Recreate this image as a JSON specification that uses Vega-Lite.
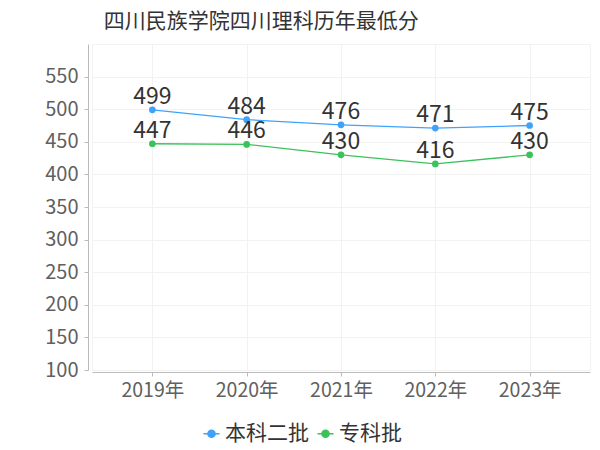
{
  "$schema": "https://vega.github.io/schema/vega-lite/v6.json",
  "width": 498,
  "height": 326,
  "autosize": {"type": "none"},
  "padding": {"left": 92, "top": 44, "right": 10, "bottom": 80},
  "title": {
    "text": "四川民族学院四川理科历年最低分",
    "anchor": "start",
    "dx": 59,
    "offset": 12,
    "fontSize": 21,
    "font": "Noto Sans CJK SC",
    "fontWeight": "normal",
    "color": "#333333"
  },
  "config": {
    "view": {"stroke": "#f2f2f2"},
    "font": "Noto Sans CJK SC"
  },
  "data": {
    "values": [
      {"year": "2019年", "batch": "本科二批", "score": 499},
      {"year": "2020年", "batch": "本科二批", "score": 484},
      {"year": "2021年", "batch": "本科二批", "score": 476},
      {"year": "2022年", "batch": "本科二批", "score": 471},
      {"year": "2023年", "batch": "本科二批", "score": 475},
      {"year": "2019年", "batch": "专科批", "score": 447},
      {"year": "2020年", "batch": "专科批", "score": 446},
      {"year": "2021年", "batch": "专科批", "score": 430},
      {"year": "2022年", "batch": "专科批", "score": 416},
      {"year": "2023年", "batch": "专科批", "score": 430}
    ]
  },
  "encoding": {
    "x": {
      "field": "year",
      "type": "ordinal",
      "scale": {"type": "point", "padding": 0.64},
      "axis": {
        "title": null,
        "labelAngle": 0,
        "labelFontSize": 19.5,
        "labelColor": "#606060",
        "labelPadding": 5,
        "domainColor": "#bbbbbb",
        "tickColor": "#bbbbbb",
        "tickSize": 4,
        "offset": 2,
        "grid": true,
        "gridColor": "#f2f2f2"
      }
    },
    "y": {
      "field": "score",
      "type": "quantitative",
      "scale": {"domain": [100, 600], "nice": false, "zero": false},
      "axis": {
        "title": null,
        "values": [100, 150, 200, 250, 300, 350, 400, 450, 500, 550],
        "labelFontSize": 20,
        "labelColor": "#606060",
        "labelPadding": 6,
        "domainColor": "#bbbbbb",
        "tickColor": "#bbbbbb",
        "tickSize": 4,
        "offset": 4,
        "grid": true,
        "gridColor": "#f2f2f2"
      }
    },
    "color": {
      "field": "batch",
      "type": "nominal",
      "sort": ["本科二批", "专科批"],
      "scale": {"domain": ["本科二批", "专科批"], "range": ["#3fa2fb", "#3cc25a"]},
      "legend": {
        "title": null,
        "orient": "none",
        "direction": "horizontal",
        "legendX": 109,
        "legendY": 379,
        "labelFontSize": 21,
        "labelColor": "#333333",
        "symbolType": "M-1,0L1,0M-0.45,0A0.45,0.45,0,1,1,0.45,0A0.45,0.45,0,1,1,-0.45,0Z",
        "symbolSize": 256,
        "symbolStrokeWidth": 1.5,
        "labelOffset": 3,
        "columnPadding": 5
      }
    }
  },
  "layer": [
    {"mark": {"type": "line", "strokeWidth": 1.3}},
    {"mark": {"type": "point", "filled": true, "size": 45, "opacity": 1}},
    {
      "mark": {"type": "text", "dy": -13, "fontSize": 23, "color": "#333333", "font": "Noto Sans CJK SC"},
      "encoding": {"text": {"field": "score", "type": "quantitative"}, "color": {"value": "#333333"}}
    }
  ]
}
